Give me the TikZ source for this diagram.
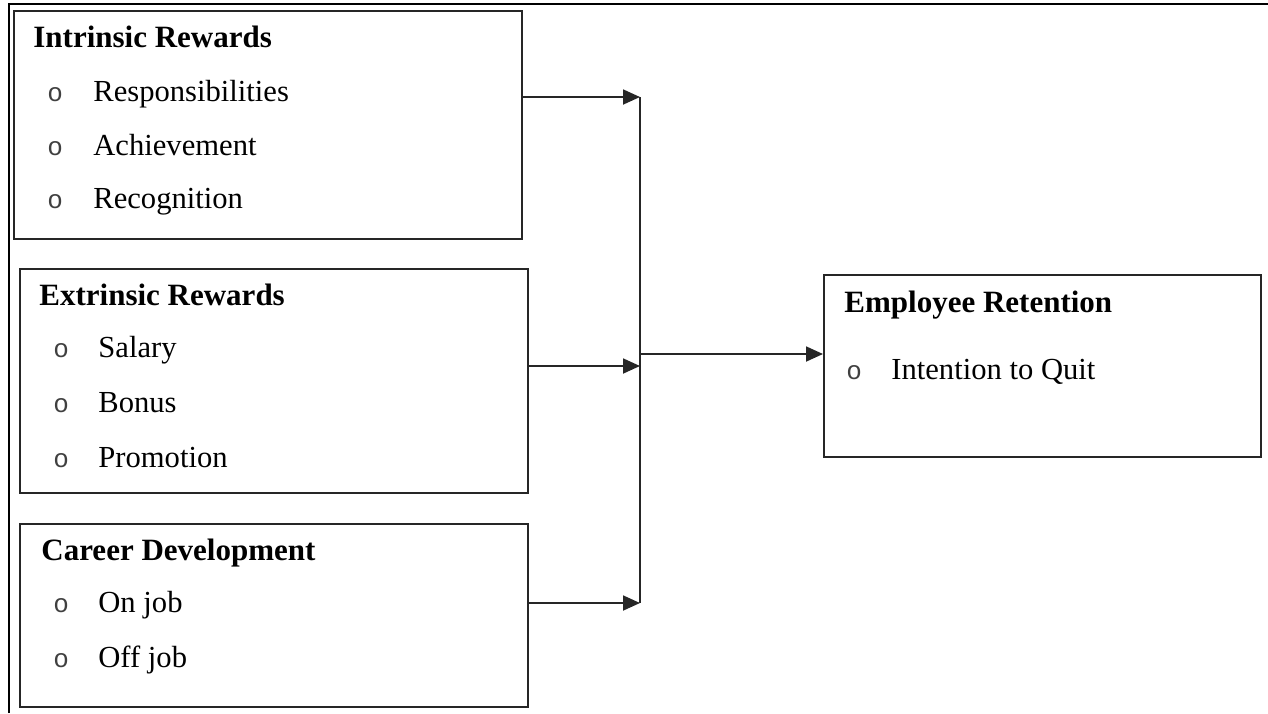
\documentclass[tikz,border=0pt]{standalone}
\usepackage{fontspec}
\setmainfont{Liberation Serif}
\newfontfamily\bulfont{Liberation Mono}
\usetikzlibrary{arrows.meta,fit,calc}
\tikzset{
  box/.style={draw=black!85, line width=1pt, inner sep=0pt},
  head/.style={anchor=base west, inner sep=0pt, font=\fontsize{15.5}{18}\selectfont\bfseries},
  item/.style={anchor=base west, inner sep=0pt, font=\fontsize{15.3}{18}\selectfont},
  bul/.style={anchor=base west, inner sep=0pt, text=black!75, font=\fontsize{13}{16}\selectfont\bulfont},
  conn/.style={draw=black!85, line width=0.9pt},
  arr/.style={conn, -{Triangle[length=8.5pt,width=7.5pt]}},
}
\begin{document}
\begin{tikzpicture}[x=0.5pt, y=-0.5pt]
        \useasboundingbox (0,0) rectangle (1268,713);

        % outer frame
        \draw[line width=1pt] (9,713) -- (9,4) -- (1268,4);

        % boxes
        \node (intr) [box, fit={(14,11) (522,239)}] {};
        \node (extr) [box, fit={(20,269) (528,493)}] {};
        \node (care) [box, fit={(20,524) (528,707)}] {};
        \node (ret) [box, fit={(824,275) (1261,457)}] {};

        % intrinsic rewards
        \node (intrT) [head] at (33,47) {Intrinsic Rewards};
        \node (intrB1) [bul] at (47,101) {o};
        \node (intrI1) [item] at (93,101) {Responsibilities};
        \node (intrB2) [bul] at (47,155) {o};
        \node (intrI2) [item] at (93,155) {Achievement};
        \node (intrB3) [bul] at (47,208) {o};
        \node (intrI3) [item] at (93,208) {Recognition};

        % extrinsic rewards
        \node (extrT) [head] at (39,305) {Extrinsic Rewards};
        \node (extrB1) [bul] at (53,357) {o};
        \node (extrI1) [item] at (98,357) {Salary};
        \node (extrB2) [bul] at (53,412) {o};
        \node (extrI2) [item] at (98,412) {Bonus};
        \node (extrB3) [bul] at (53,467) {o};
        \node (extrI3) [item] at (98,467) {Promotion};

        % career development
        \node (careT) [head] at (41,560) {Career Development};
        \node (careB1) [bul] at (53,612) {o};
        \node (careI1) [item] at (98,612) {On job};
        \node (careB2) [bul] at (53,667) {o};
        \node (careI2) [item] at (98,667) {Off job};

        % employee retention
        \node (retT) [head] at (844,312) {Employee Retention};
        \node (retB1) [bul] at (846,379) {o};
        \node (retI1) [item] at (891,379) {Intention to Quit};

        % connectors
        \coordinate (j1) at (640,97);
        \coordinate (j2) at (640,366);
        \coordinate (j3) at (640,603);
        \coordinate (jm) at (640,354);

        \draw[arr] (intr.east |- j1) -- (j1);
        \draw[arr] (extr.east |- j2) -- (j2);
        \draw[arr] (care.east |- j3) -- (j3);
        \draw[conn] (j1) -- (j3);
        \draw[arr] (jm) -- (ret.west |- jm);
\end{tikzpicture}
\end{document}
